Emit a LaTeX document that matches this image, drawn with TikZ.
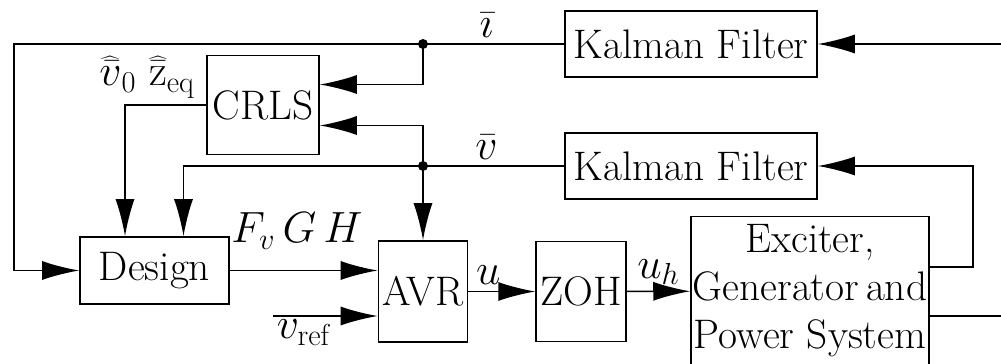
\documentclass[tikz,border=0pt]{standalone}
\usepackage{tikz}
\usetikzlibrary{positioning, arrows.meta, calc}

\begin{document}
\begin{tikzpicture}[
  x=0.02cm, y=-0.02cm,
  font=\fontsize{23.5pt}{27.3pt}\selectfont,
  blk/.style={draw, line width=0.9pt, align=center, inner sep=1pt},
  arr/.style={-{Latex[length=0.74cm, width=0.38cm]}, line width=0.9pt},
  wire/.style={line width=0.9pt},
]
\useasboundingbox (0,0) rectangle (1001,364);
\clip (0,0) rectangle (1001,364);

\node[blk, minimum width=5.04cm, minimum height=1.32cm] (kf1) at (691,44) {Kalman Filter};
\node[blk, minimum width=5.04cm, minimum height=1.32cm] (kf2) at (691,166) {Kalman Filter};
\node[blk, minimum width=2.24cm, minimum height=1.98cm] (crls) at (263,105) {CRLS};
\node[blk, minimum width=2.98cm, minimum height=1.34cm] (design) at (154.5,270.5) {Design};
\node[blk, minimum width=1.78cm, minimum height=2.02cm] (avr) at (423,291.5) {AVR};
\node[blk, minimum width=1.8cm, minimum height=2.0cm, right=1.34cm of avr] (zoh) {ZOH};
\node[blk, minimum width=4.76cm, minimum height=2.98cm] (plant) at (810,291) {Exciter,\\Generator\,and\\Power System};

% junctions and free ends
\coordinate (ijn) at (423,44);
\coordinate (vjn) at (423,166);
\coordinate (lft) at (14,44);
\coordinate (iin) at (1001,44);
\coordinate (kret) at (973,166);
\coordinate (vref) at (273,316);
\coordinate (yout) at (1001,316);
\fill (ijn) circle (0.1cm);
\fill (vjn) circle (0.1cm);

% measured current
\draw[arr] (iin) -- (kf1);
\draw[arr] (kf1.west) -- node[above, pos=0.55] {$\bar{\imath}$} (ijn) -- (lft) |- (design.west);
\draw[arr] (ijn) |- ([yshift=0.41cm]crls.east);

% measured voltage
\draw[arr] ([yshift=0.48cm]plant.east) -| (kret) -- (kf2);
\draw[arr] (kf2.west) -- node[above, pos=0.55] {$\bar{v}$} (vjn) -| ([xshift=0.58cm]design.north);
\draw[arr] (vjn) |- ([yshift=-0.41cm]crls.east);
\draw[arr] (vjn) -- (avr.north);

% estimates
\draw[arr] (crls.west) -| ([xshift=-0.59cm]design.north);
\node[anchor=base, inner sep=0pt] (vest) at (118,86) {$\widehat{\bar{v}}_0$};
\node[anchor=base, inner sep=0pt] (zest) at (172,86) {$\widehat{\bar{\mathrm{z}}}_{\mathrm{eq}}$};

% forward path
\draw[arr] (design.east) -- (design.east -| avr.west);
\node[anchor=base west, inner sep=0pt] (gains) at (231,243) {$F_v\,G\,H$};
\draw[arr] (vref) -- (vref -| avr.west);
\node[below right, inner sep=2pt] (vreflbl) at (vref) {$v_{\mathrm{ref}}$};
\draw[arr] (avr) -- node[above, pos=0.3] {$u$} (zoh);
\draw[arr] (zoh) -- node[above] {$u_h$} (plant);
\draw[wire] ([yshift=-0.5cm]plant.east) -- (yout);
\end{tikzpicture}
\end{document}
